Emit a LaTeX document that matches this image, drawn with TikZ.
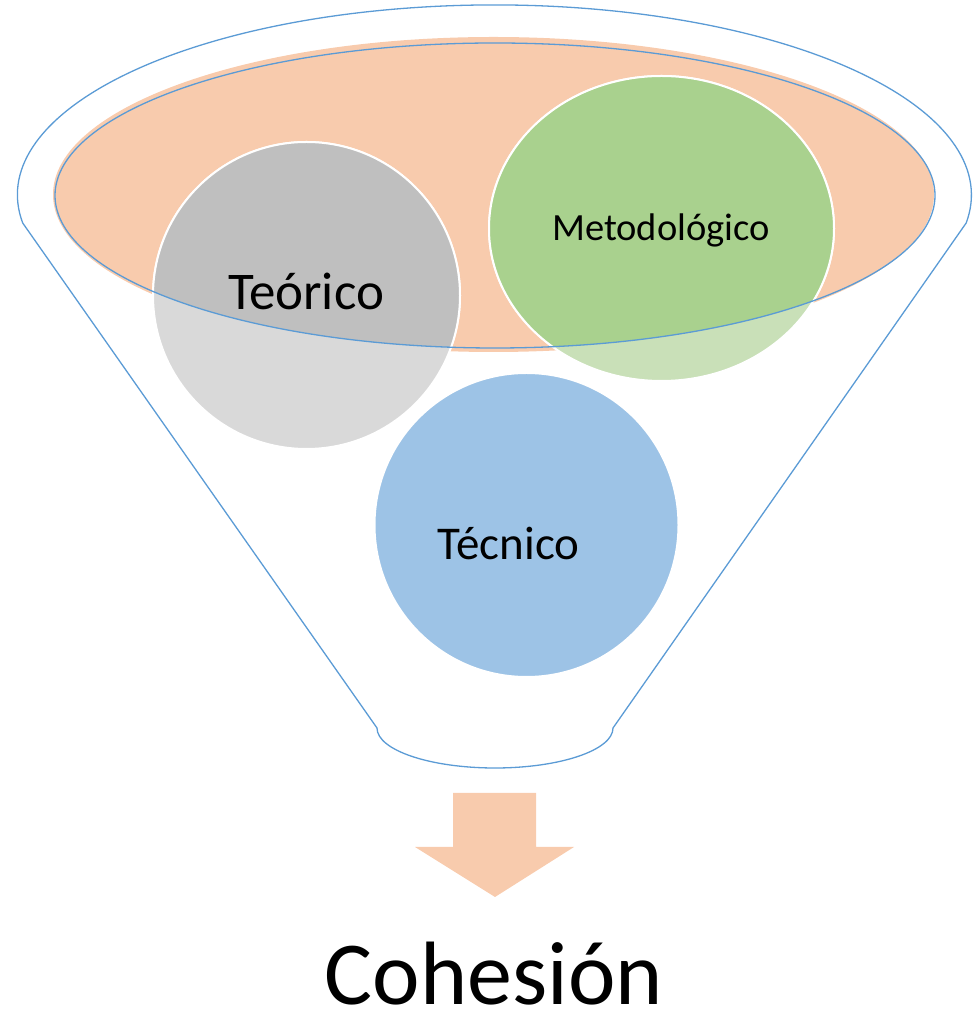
\documentclass[tikz,border=0pt]{standalone}
\usepackage{fontspec}
\setmainfont{Carlito}
\usetikzlibrary{shapes.geometric}
\definecolor{peach}{HTML}{F8CBAD}
\definecolor{funnelblue}{HTML}{5B9BD5}
\definecolor{greyL}{HTML}{D9D9D9}
\definecolor{greyD}{HTML}{BFBFBF}
\definecolor{greenL}{HTML}{C9E0B8}
\definecolor{greenD}{HTML}{A9D18E}
\definecolor{bubbleblue}{HTML}{9DC3E6}
\tikzset{
  bubble/.style={circle, draw=white, line width=2pt, inner sep=0pt},
  oval/.style={ellipse, draw=white, line width=2pt, inner sep=0pt},
  outline/.style={draw=funnelblue, line width=1.3pt, line join=round},
  label/.style={anchor=base, inner sep=0pt, text=black}
}
\begin{document}
\begin{tikzpicture}[x=1pt,y=1pt]
\useasboundingbox (0,0) rectangle (974,1015);
% funnel rim fill
\fill[peach] (493.5,820.5) ellipse [x radius=440.5, y radius=157.5];
% bubbles (faded parts outside the rim)
\node[bubble, fill=greyL, minimum size=307pt] (teo) at (306.5,719.5) {};
\node[oval, fill=greenL, minimum width=345pt, minimum height=305pt] (met) at (661.5,786.5) {};
\node[bubble, fill=bubbleblue, minimum size=304pt] (tec) at (526.5,490) {};
% full colour parts inside the rim
\begin{scope}
  \clip (495,819.5) ellipse [x radius=440, y radius=152.5];
  \path[fill=greyD, draw=white, line width=2pt] (teo.center) circle [radius=153.5];
  \path[fill=greenD, draw=white, line width=2pt] (met.center) ellipse [x radius=172.5, y radius=152.5];
\end{scope}
% rim outline
\path[outline] (495,819.5) ellipse [x radius=440, y radius=152.5];
% funnel outline
\path[outline] (22.7,792) arc [start angle=188.5, end angle=-8.5, x radius=477, y radius=190]
  -- (613,287) arc [start angle=0, end angle=-180, x radius=118, y radius=40] -- cycle;
% arrow
\fill[peach] (453,222) -- (536,222) -- (536,168) -- (574,168) -- (495,118) -- (415,168) -- (453,168) -- cycle;
% labels
\node[label, font=\fontsize{53}{60}\selectfont] (tteo) at (306,705) {Teórico};
\node[label, font=\fontsize{38.5}{44}\selectfont] (tmet) at (661,774.3) {Metodológico};
\node[label, font=\fontsize{47}{54}\selectfont] (ttec) at (508.5,455) {Técnico};
\node[label, text depth=0pt, font=\fontsize{90}{100}\selectfont] (coh) at (494,10) {Cohesión};
\end{tikzpicture}
\end{document}
